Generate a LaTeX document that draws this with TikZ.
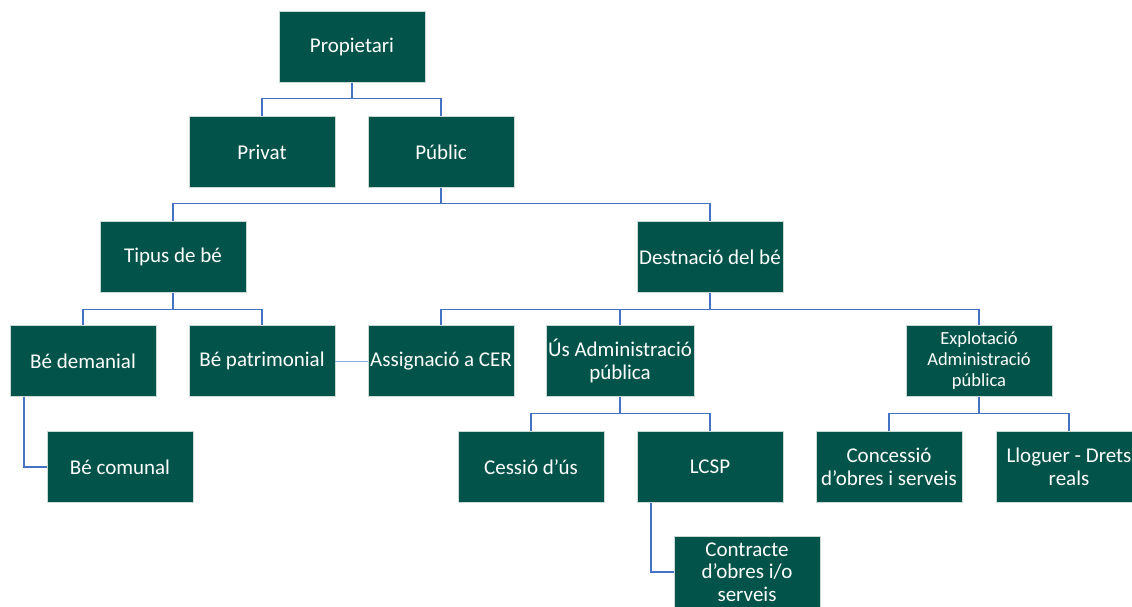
\documentclass[tikz,border=0pt]{standalone}
\usepackage{fontspec}
\setmainfont{Carlito}
\definecolor{boxgreen}{HTML}{02534A}
\definecolor{boxedge}{HTML}{C9DAD5}
\definecolor{linkblue}{HTML}{4472C4}
\definecolor{linklight}{HTML}{8FAADC}
\tikzset{
  orgbox/.style={draw=boxedge, line width=0.6pt, fill=boxgreen, text=white,
    minimum width=146pt, minimum height=71pt, inner sep=2pt, align=center,
    font=\fontsize{21}{22.5}\selectfont},
  smalltext/.style={font=\fontsize{18.5}{21}\selectfont},
  link/.style={draw=linkblue, line width=1.3pt},
  sidelink/.style={draw=linklight, line width=1pt}
}
\begin{document}
\begin{tikzpicture}[x=1pt, y=-1pt]
\useasboundingbox (0,0) rectangle (1132,606);
\fill[white] (0,0) rectangle (1132,606);

% Level 0 and 1
\node[orgbox] (prop)   at (352,47)  {Propietari};
\node[orgbox] (privat) at (262,152) {Privat};
\node[orgbox] (public) at (441,152) {Públic};

% Level 2
\node[orgbox] (tipus) at (173,257) {Tipus de bé};
\node[orgbox] (dest)  at (710,257) {Destnació del bé};

% Level 3
\node[orgbox] (demanial) at (83,361)  {Bé demanial};
\node[orgbox] (patrim)   at (262,361) {Bé patrimonial};
\node[orgbox] (cer)      at (441,361) {Assignació a CER};
\node[orgbox] (us)       at (620,361) {Ús Administració\\pública};
\node[orgbox, smalltext] (explo) at (979,361) {Explotació\\Administració\\pública};

% Level 4
\node[orgbox] (comunal)   at (120,467)  {Bé comunal};
\node[orgbox] (cessio)    at (531,467)  {Cessió d’ús};
\node[orgbox] (lcsp)      at (710,467)  {LCSP};
\node[orgbox] (concessio) at (889,467)  {Concessió\\d’obres i serveis};
\node[orgbox] (lloguer)   at (1069,467) {Lloguer - Drets\\reals};

% Level 5
\node[orgbox] (contracte) at (747,572) {Contracte\\d’obres i/o\\serveis};

% Tree connectors
\draw[link] (prop.south) -- ++(0,16) -| (privat.north);
\draw[link] (prop.south) -- ++(0,16) -| (public.north);
\draw[link] (public.south) -- ++(0,16) -| (tipus.north);
\draw[link] (public.south) -- ++(0,16) -| (dest.north);
\draw[link] (tipus.south) -- ++(0,17) -| (demanial.north);
\draw[link] (tipus.south) -- ++(0,17) -| (patrim.north);
\draw[link] (dest.south) -- ++(0,17) -| (cer.north);
\draw[link] (dest.south) -- ++(0,17) -| (us.north);
\draw[link] (dest.south) -- ++(0,17) -| (explo.north);
\draw[link] (us.south) -- ++(0,17) -| (cessio.north);
\draw[link] (us.south) -- ++(0,17) -| (lcsp.north);
\draw[link] (explo.south) -- ++(0,17) -| (concessio.north);
\draw[link] (explo.south) -- ++(0,17) -| (lloguer.north);

% Side branches
\draw[link] ([xshift=-59pt]demanial.south) |- (comunal.west);
\draw[link] ([xshift=-59pt]lcsp.south) |- (contracte.west);
\draw[sidelink] (patrim.east) -- (cer.west);
\end{tikzpicture}
\end{document}
